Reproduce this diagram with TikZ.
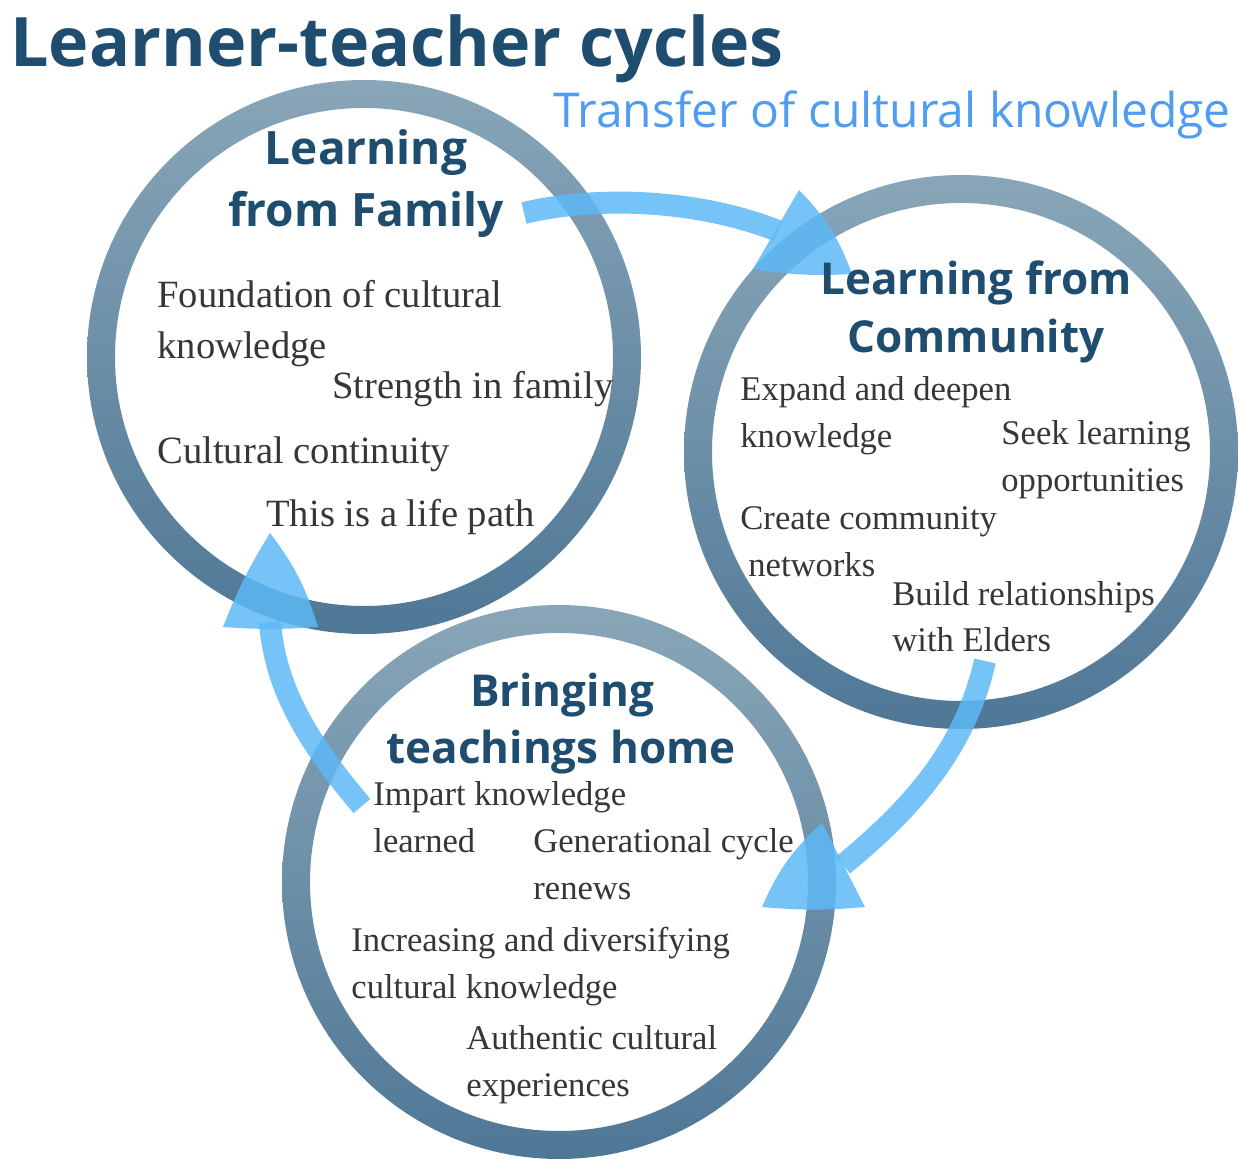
\documentclass[tikz,border=0pt]{standalone}
\usepackage{fontspec}
\setmainfont{Liberation Serif}
\newfontfamily\headfont{Open Sans}

\definecolor{ringtop}{HTML}{89A6B8}
\definecolor{ringbot}{HTML}{4F7796}
\definecolor{headblue}{HTML}{1E4D70}
\definecolor{subblue}{HTML}{4F9CF2}
\definecolor{arrowblue}{HTML}{5DB9F6}
\definecolor{bodygray}{HTML}{363636}

\begin{document}
\begin{tikzpicture}[x=0.5pt,y=-0.5pt,
  ring/.style={top color=ringtop, bottom color=ringbot, even odd rule},
  flow/.style={draw=arrowblue, line width=11pt, opacity=0.85},
  flowhead/.style={fill=arrowblue, opacity=0.85},
  heading/.style={font=\headfont\bfseries\fontsize{22}{26}\selectfont,
    text=headblue, inner sep=0pt, anchor=base},
  bigheading/.style={heading, font=\headfont\bfseries\fontsize{23}{27}\selectfont},
  item/.style={font=\fontsize{17.3}{21}\selectfont, text=bodygray,
    inner sep=0pt, anchor=base west},
  bigitem/.style={item, font=\fontsize{19.3}{23}\selectfont},
]
\useasboundingbox (0,0) rectangle (1238,1159);

% centres of the three cycles
\coordinate (fam)  at (364,357);
\coordinate (com)  at (961,452);
\coordinate (home) at (559,882);

% rings
\shade[ring] (fam)  circle[radius=277] (fam)  circle[radius=249];
\shade[ring] (com)  circle[radius=277] (com)  circle[radius=249];
\shade[ring] (home) circle[radius=277] (home) circle[radius=249];

% flow arrows between the cycles
\coordinate (t1) at (524,213);
\coordinate (b1) at (778,231);
\draw[flow] (t1) .. controls (600,195) and (700,200) .. (b1);
\fill[flowhead] (799,190) to[bend left=12] (852,274) to[bend left=6] (753,269) -- cycle;

\coordinate (t2) at (985,661);
\coordinate (b2) at (843,865);
\draw[flow] (t2) .. controls (965,750) and (910,810) .. (b2);
\fill[flowhead] (822,823) to[bend right=12] (762,907) to[bend right=5] (865,907) -- cycle;

\coordinate (t3) at (362,806);
\coordinate (b3) at (270,622);
\draw[flow] (t3) .. controls (310,745) and (275,690) .. (b3);
\fill[flowhead] (270,533) to[bend left=10] (318,627) to[bend left=4] (223,627) to[bend left=5] cycle;

% titles
\node[font=\headfont\bfseries\fontsize{34.1}{40}\selectfont, text=headblue,
  anchor=base west, inner sep=0pt] (title) at (10,67) {Learner-teacher cycles};
\node[font=\headfont\fontsize{24}{28}\selectfont, text=subblue,
  anchor=base west, inner sep=0pt] (subtitle) at (553,128) {Transfer of cultural knowledge};

% learning from family
\node[bigheading] (famA) at (366,165) {Learning};
\node[bigheading] (famB) at (366,227) {from Family};
\node[bigitem] (f1) at (157,308) {Foundation of cultural};
\node[bigitem] (f2) at (157,359) {knowledge};
\node[bigitem] (f3) at (332,399) {Strength in family};
\node[bigitem] (f4) at (157,464) {Cultural continuity};
\node[bigitem] (f5) at (266,527) {This is a life path};

% learning from community
\node[heading] (comA) at (976,295) {Learning from};
\node[heading] (comB) at (976,353) {Community};
\node[item] (c1) at (740,401) {Expand and deepen};
\node[item] (c2) at (740,448) {knowledge};
\node[item] (c3) at (1001,445) {Seek learning};
\node[item] (c4) at (1001,492) {opportunities};
\node[item] (c5) at (740,530) {Create community};
\node[item] (c6) at (748,577) {networks};
\node[item] (c7) at (892,606) {Build relationships};
\node[item] (c8) at (892,652) {with Elders};

% bringing teachings home
\node[heading] (homeA) at (562,707) {Bringing};
\node[heading] (homeB) at (561,764) {teachings home};
\node[item] (h1) at (373,806) {Impart knowledge};
\node[item] (h2) at (373,853) {learned};
\node[item] (h3) at (533,853) {Generational cycle};
\node[item] (h4) at (533,900) {renews};
\node[item] (h5) at (351,952) {Increasing and diversifying};
\node[item] (h6) at (351,999) {cultural knowledge};
\node[item] (h7) at (466,1050) {Authentic cultural};
\node[item] (h8) at (466,1097) {experiences};
\end{tikzpicture}
\end{document}
